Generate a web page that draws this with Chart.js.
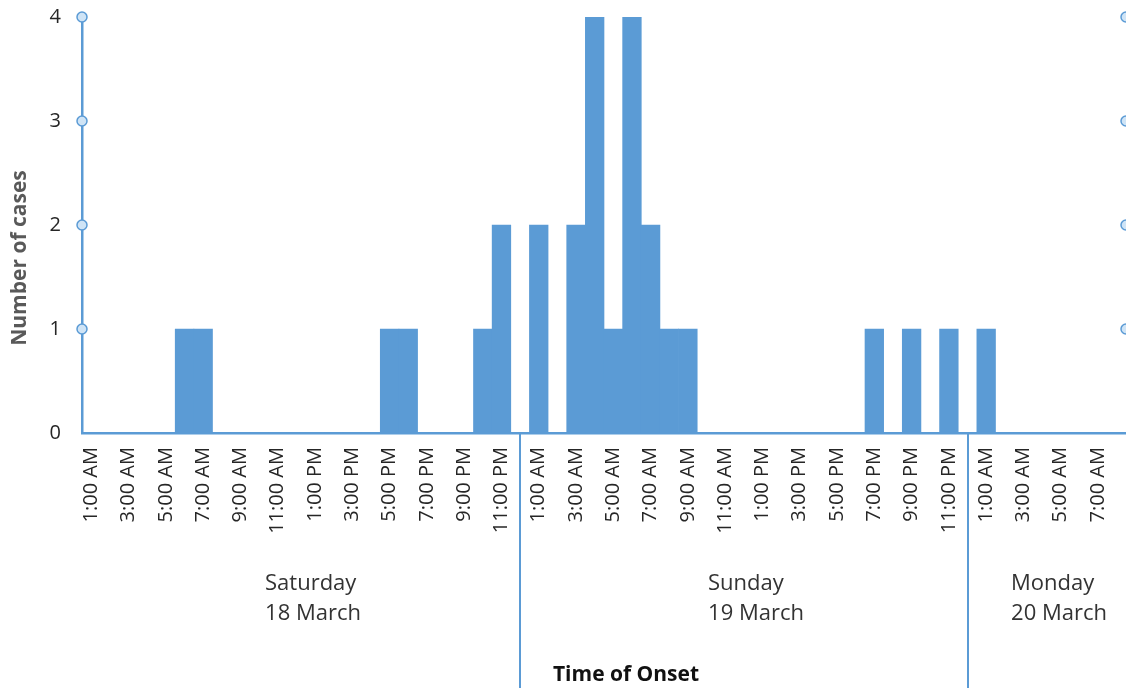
<!DOCTYPE html>
<html>
<head>
<meta charset="utf-8">
<title>Time of Onset</title>
<script src="https://cdn.jsdelivr.net/npm/chart.js@4"></script>
<style>
  html, body { margin: 0; padding: 0; background: #ffffff; }
  #wrap { width: 1126px; height: 688px; position: relative; }
</style>
</head>
<body>
<div id="wrap"><canvas id="chart" width="1126" height="688"></canvas></div>
<script>
// Hourly slots for each day
const hourLabels = [
  '1:00 AM', '2:00 AM', '3:00 AM', '4:00 AM', '5:00 AM', '6:00 AM',
  '7:00 AM', '8:00 AM', '9:00 AM', '10:00 AM', '11:00 AM', '12:00 PM',
  '1:00 PM', '2:00 PM', '3:00 PM', '4:00 PM', '5:00 PM', '6:00 PM',
  '7:00 PM', '8:00 PM', '9:00 PM', '10:00 PM', '11:00 PM', '12:00 AM'
];

const dayNames = ['Saturday', 'Sunday', 'Monday'];
const dayDates = ['18 March', '19 March', '20 March'];

// Cases by hour of onset
const satCases = [0, 0, 0, 0, 0, 1, 1, 0, 0, 0, 0, 0, 0, 0, 0, 0, 1, 1, 0, 0, 0, 1, 2, 0];
const sunCases = [2, 0, 2, 4, 1, 4, 2, 1, 1, 0, 0, 0, 0, 0, 0, 0, 0, 0, 1, 0, 1, 0, 1, 0];
const monCases = [1, 0, 0, 0, 0, 0, 0, 0];

const yTicks = [0, 1, 2, 3, 4];

const dayCases = [satCases, sunCases, monCases];
const categories = [];
const cases = [];
const dayStart = [];
dayCases.forEach((vals) => {
  dayStart.push(categories.length);
  vals.forEach((v, i) => {
    categories.push(hourLabels[i]);
    cases.push(v);
  });
});

const BLUE = '#5b9bd5';
const FONT = '"Open Sans", "Noto Sans", sans-serif';

// Day group labels, separators, axis markers and axis titles
const dayGroups = {
  id: 'dayGroups',
  afterDraw(chart) {
    const { ctx, chartArea } = chart;
    const x = chart.scales.x;
    const y = chart.scales.y;

    // divider positions: the midnight slot closing each day
    const edges = [chartArea.left];
    for (let d = 1; d < dayStart.length; d++) {
      edges.push(Math.round(x.getPixelForValue(dayStart[d] - 1)));
    }
    edges.push(chartArea.right);

    ctx.save();
    ctx.strokeStyle = BLUE;
    ctx.lineWidth = 2;
    for (let d = 1; d < edges.length - 1; d++) {
      ctx.beginPath();
      ctx.moveTo(edges[d], chartArea.bottom);
      ctx.lineTo(edges[d], chart.height);
      ctx.stroke();
    }

    // day names under each group
    ctx.fillStyle = '#333333';
    ctx.font = '22px ' + FONT;
    ctx.textBaseline = 'middle';
    ctx.textAlign = 'left';
    for (let d = 0; d < dayNames.length; d++) {
      const center = (edges[d] + edges[d + 1]) / 2;
      const w = Math.max(ctx.measureText(dayNames[d]).width, ctx.measureText(dayDates[d]).width);
      const tx = center - w / 2 + 12;
      ctx.fillText(dayNames[d], tx, 584);
      ctx.fillText(dayDates[d], tx, 614);
    }

    // circle markers on the value axis and the right edge
    ctx.lineWidth = 1.5;
    yTicks.forEach((v) => {
      if (v === 0) return;
      const py = y.getPixelForValue(v);
      [chartArea.left, chartArea.right].forEach((px) => {
        ctx.beginPath();
        ctx.arc(px, py, 5, 0, Math.PI * 2);
        ctx.fillStyle = '#cfe4f6';
        ctx.fill();
        ctx.strokeStyle = BLUE;
        ctx.stroke();
      });
    });

    // axis titles
    ctx.font = 'bold 21px ' + FONT;
    ctx.fillStyle = '#111111';
    ctx.textAlign = 'center';
    ctx.fillText('Time of Onset', 626, 675);

    ctx.save();
    ctx.translate(20, 258);
    ctx.rotate(-Math.PI / 2);
    ctx.font = 'bold 21px ' + FONT;
    ctx.fillStyle = '#595959';
    ctx.textAlign = 'center';
    ctx.textBaseline = 'middle';
    ctx.fillText('Number of cases', 0, 0);
    ctx.restore();

    ctx.restore();
  }
};

new Chart(document.getElementById('chart'), {
  type: 'bar',
  data: {
    labels: categories,
    datasets: [{
      label: 'Number of cases',
      data: cases,
      backgroundColor: BLUE,
      borderWidth: 0,
      categoryPercentage: 1.0,
      barPercentage: 1.0
    }]
  },
  options: {
    responsive: false,
    animation: false,
    devicePixelRatio: 1,
    layout: { padding: { top: 17, right: 0, left: 0, bottom: 0 } },
    plugins: {
      legend: { display: false },
      tooltip: { enabled: false }
    },
    scales: {
      x: {
        offset: true,
        grid: { display: false, drawTicks: false },
        border: { display: true, color: BLUE, width: 2.5 },
        ticks: {
          autoSkip: false,
          minRotation: 90,
          maxRotation: 90,
          padding: 14,
          color: '#262626',
          font: { family: FONT, size: 20 },
          callback: function (value, index) {
            return index % 2 === 0 ? this.getLabelForValue(value) : '';
          }
        },
        afterFit(scale) {
          scale.height = 255;
          scale.paddingLeft = 0;
          scale.paddingRight = 0;
        }
      },
      y: {
        min: 0,
        max: 4,
        grid: { display: false, drawTicks: false },
        border: { display: true, color: BLUE, width: 2.5 },
        afterBuildTicks(scale) { scale.ticks = yTicks.map((v) => ({ value: v })); },
        ticks: {
          stepSize: 1,
          padding: 21,
          color: '#262626',
          font: { family: FONT, size: 20 }
        },
        afterFit(scale) {
          scale.width = 82;
          scale.paddingTop = 0;
          scale.paddingBottom = 0;
        }
      }
    }
  },
  plugins: [dayGroups]
});
</script>
</body>
</html>
